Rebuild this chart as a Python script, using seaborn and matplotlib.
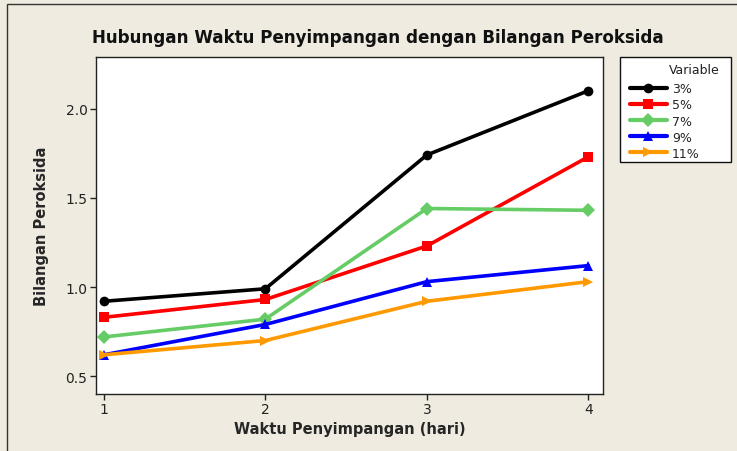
import pandas as pd
import matplotlib

matplotlib.use("Agg")
import matplotlib.pyplot as plt
import seaborn as sns
from matplotlib.patches import Rectangle

sns.set_theme(style="white")
plt.rcParams["font.family"] = ["DejaVu Sans"]

# data
days = [1, 2, 3, 4]
val_3 = [0.92, 0.99, 1.74, 2.10]
val_5 = [0.83, 0.93, 1.23, 1.73]
val_7 = [0.72, 0.82, 1.44, 1.43]
val_9 = [0.62, 0.79, 1.03, 1.12]
val_11 = [0.62, 0.70, 0.92, 1.03]
series_names = ["3%", "5%", "7%", "9%", "11%"]
colors = ["#000000", "#FF0000", "#66CC66", "#0000FF", "#FF9900"]
markers = ["o", "s", "D", "^", ">"]

rows = []
for name, vals in zip(series_names, [val_3, val_5, val_7, val_9, val_11]):
    for d, v in zip(days, vals):
        rows.append({"Hari": d, "Nilai": v, "Variable": name})
df = pd.DataFrame(rows)

bg = "#EFEBE1"
fig = plt.figure(figsize=(7.37, 4.52), dpi=100, facecolor=bg)
ax = fig.add_axes([0.130, 0.126, 0.688, 0.746])
ax.set_facecolor("white")

sns.lineplot(
    data=df, x="Hari", y="Nilai", hue="Variable", style="Variable",
    palette=colors, markers=markers, dashes=False, linewidth=2.6,
    markersize=7, markeredgewidth=0, ax=ax,
)

ax.set_xlim(0.95, 4.09)
ax.set_ylim(0.40, 2.29)
ax.set_xticks(days)
ax.set_xticklabels([str(d) for d in days])
ax.set_yticks([0.5, 1.0, 1.5, 2.0])
ax.set_yticklabels(["0.5", "1.0", "1.5", "2.0"])
ax.tick_params(axis="both", direction="out", length=4, width=1, colors="#222222",
               labelsize=10, left=True, bottom=True, top=False, right=False, pad=2)
for sp in ax.spines.values():
    sp.set_color("#222222")
    sp.set_linewidth(1)

ax.set_xlabel("Waktu Penyimpangan (hari)", fontsize=10.5, fontweight="bold", labelpad=3)
ax.set_ylabel("Bilangan Peroksida", fontsize=10.5, fontweight="bold", labelpad=12)
fig.text(0.513, 0.915, "Hubungan Waktu Penyimpangan dengan Bilangan Peroksida",
         ha="center", va="center", fontsize=12.1, fontweight="bold", color="#111111")

ax.get_legend().remove()
handles, labels = ax.get_legend_handles_labels()

# legend box drawn separately so it can be wider than its contents
fig.patches.append(Rectangle((620 / 737, 1 - 163 / 452), 111 / 737, 105 / 452,
                             transform=fig.transFigure, facecolor="white",
                             edgecolor="#111111", linewidth=1, zorder=0))
fig.text(669 / 737, 1 - 71 / 452, "Variable", ha="left", va="center",
         fontsize=9, color="#222222")
leg = fig.legend(handles, labels, loc="upper left",
                 bbox_to_anchor=(624 / 737, 1 - 77 / 452), frameon=False,
                 fontsize=9, handlelength=2.9,
                 borderpad=0.0, labelspacing=0.25, handletextpad=0.45)
for h in leg.legend_handles:
    h.set_linewidth(3)

# outer frame of the graph window
fig.patches.append(Rectangle((0.010, -0.01), 1.2, 1.0, transform=fig.transFigure,
                             fill=False, edgecolor="#333333", linewidth=1))

fig.savefig("out.png", dpi=100, facecolor=bg)
